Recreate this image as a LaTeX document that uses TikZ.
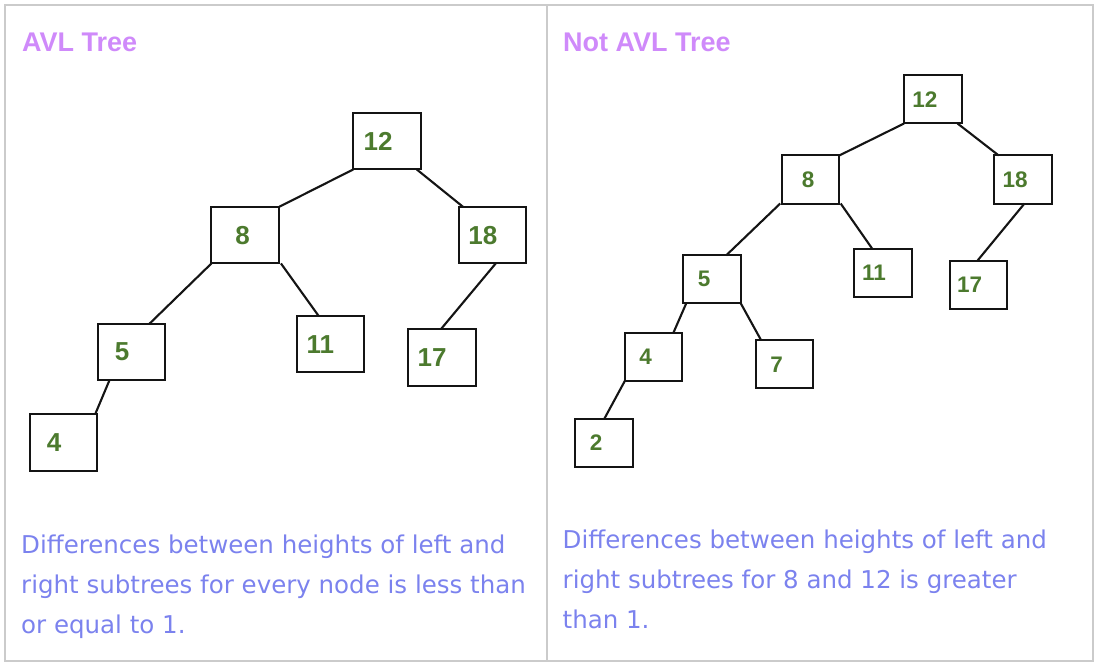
\documentclass[tikz,border=0pt]{standalone}
\usepackage{fontspec}
\setmainfont{Liberation Sans}
\newfontfamily\descfont{DejaVu Sans}
\definecolor{framegray}{HTML}{CBCBCB}
\definecolor{boxline}{HTML}{141414}
\definecolor{numgreen}{HTML}{4C7A2E}
\definecolor{titlepurple}{HTML}{CF8AFA}
\definecolor{descblue}{HTML}{7B82EE}
\begin{document}
\begin{tikzpicture}[x=1pt,y=-1pt,
  framestyle/.style={draw=framegray, line width=2pt},
  lbox/.style={draw=boxline, line width=2pt, minimum width=67.5pt, minimum height=56.5pt, inner sep=0pt, outer sep=0pt},
  rbox/.style={draw=boxline, line width=2pt, minimum width=57.5pt, minimum height=48pt, inner sep=0pt, outer sep=0pt},
  lnum/.style={font=\fontsize{26}{26}\selectfont\bfseries, text=numgreen, inner sep=0pt},
  rnum/.style={font=\fontsize{22.5}{22.5}\selectfont\bfseries, text=numgreen, inner sep=0pt},
  ttl/.style={font=\fontsize{27}{27}\selectfont\bfseries, text=titlepurple, inner sep=0pt, anchor=base west},
  desc/.style={font=\descfont\fontsize{24.5}{24.5}\selectfont, text=descblue, inner sep=0pt, anchor=base west},
  conn/.style={draw=boxline, line width=2.1pt}
]
\useasboundingbox (0,0) rectangle (1098,666);
% frame
\draw[framestyle] (5,5) rectangle (1092.5,661);
\draw[framestyle] (547,5) -- (547,661);

% titles
\node[ttl] (ltitle) at (22,51.5) {AVL Tree};
\node[ttl] (rtitle) at (563,51.5) {Not AVL Tree};

% left tree
\node[lbox, label={[lnum,xshift=-9pt]center:12}] (L12) at (387,141.2) {};
\node[lbox, label={[lnum,xshift=-2.5pt]center:8}] (L8) at (245.2,235.2) {};
\node[lbox, label={[lnum,xshift=-9.5pt]center:18}] (L18) at (492.3,235.1) {};
\node[lbox, label={[lnum,xshift=-9.5pt]center:5}] (L5) at (131.7,352) {};
\node[lbox, label={[lnum,xshift=-10pt]center:11}] (L11) at (330.4,344.2) {};
\node[lbox, label={[lnum,xshift=-10pt]center:17}] (L17) at (442,357.3) {};
\node[lbox, label={[lnum,xshift=-9.5pt]center:4}] (L4) at (63.5,442.3) {};

\draw[conn] (L12.south west) -- (L8.north east);
\draw[conn] ([xshift=-4pt]L12.south east) -- ([xshift=4.5pt]L18.north west);
\draw[conn] (L8.south west) -- ([xshift=-16pt]L5.north east);
\draw[conn] ([xshift=2pt]L8.south east) -- ([xshift=22pt]L11.north west);
\draw[conn] ([xshift=3.5pt]L18.south) -- ([xshift=-1pt]L17.north);
\draw[conn] ([xshift=11.5pt]L5.south west) -- ([xshift=-2pt]L4.north east);

% right tree
\node[rbox, label={[rnum,xshift=-8pt]center:12}] (R12) at (932.8,99.5) {};
\node[rbox, label={[rnum,xshift=-2.5pt]center:8}] (R8) at (810.5,179.5) {};
\node[rbox, label={[rnum,xshift=-8pt]center:18}] (R18) at (1023.2,179.5) {};
\node[rbox, label={[rnum,xshift=-8pt]center:5}] (R5) at (712,279.3) {};
\node[rbox, label={[rnum,xshift=-9pt]center:11}] (R11) at (882.9,273.2) {};
\node[rbox, label={[rnum,xshift=-9pt]center:17}] (R17) at (978.6,284.5) {};
\node[rbox, label={[rnum,xshift=-8pt]center:4}] (R4) at (653.6,356.9) {};
\node[rbox, label={[rnum,xshift=-8pt]center:7}] (R7) at (784.5,364.3) {};
\node[rbox, label={[rnum,xshift=-8pt]center:2}] (R2) at (604.2,443) {};

\draw[conn] (R12.south west) -- (R8.north east);
\draw[conn] ([xshift=-4pt]R12.south east) -- ([xshift=4.3pt]R18.north west);
\draw[conn] ([xshift=-1.5pt]R8.south west) -- ([xshift=-14.5pt]R5.north east);
\draw[conn] ([xshift=1.4pt]R8.south east) -- ([xshift=18.4pt]R11.north west);
\draw[conn] ([xshift=1.3pt]R18.south) -- ([xshift=-1pt]R17.north);
\draw[conn] ([xshift=3pt]R5.south west) -- ([xshift=-9pt]R4.north east);
\draw[conn] (R5.south east) -- ([xshift=5.4pt]R7.north west);
\draw[conn] (R4.south west) -- (R2.north);

% descriptions
\node[desc] (ld1) at (21,553) {Differences between heights of left and};
\node[desc] (ld2) at (21,593) {right subtrees for every node is less than};
\node[desc] (ld3) at (21,633) {or equal to 1.};
\node[desc] (rd1) at (562.5,548.5) {Differences between heights of left and};
\node[desc] (rd2) at (562.5,588.5) {right subtrees for 8 and 12 is greater};
\node[desc] (rd3) at (562.5,628.5) {than 1.};
\end{tikzpicture}
\end{document}
